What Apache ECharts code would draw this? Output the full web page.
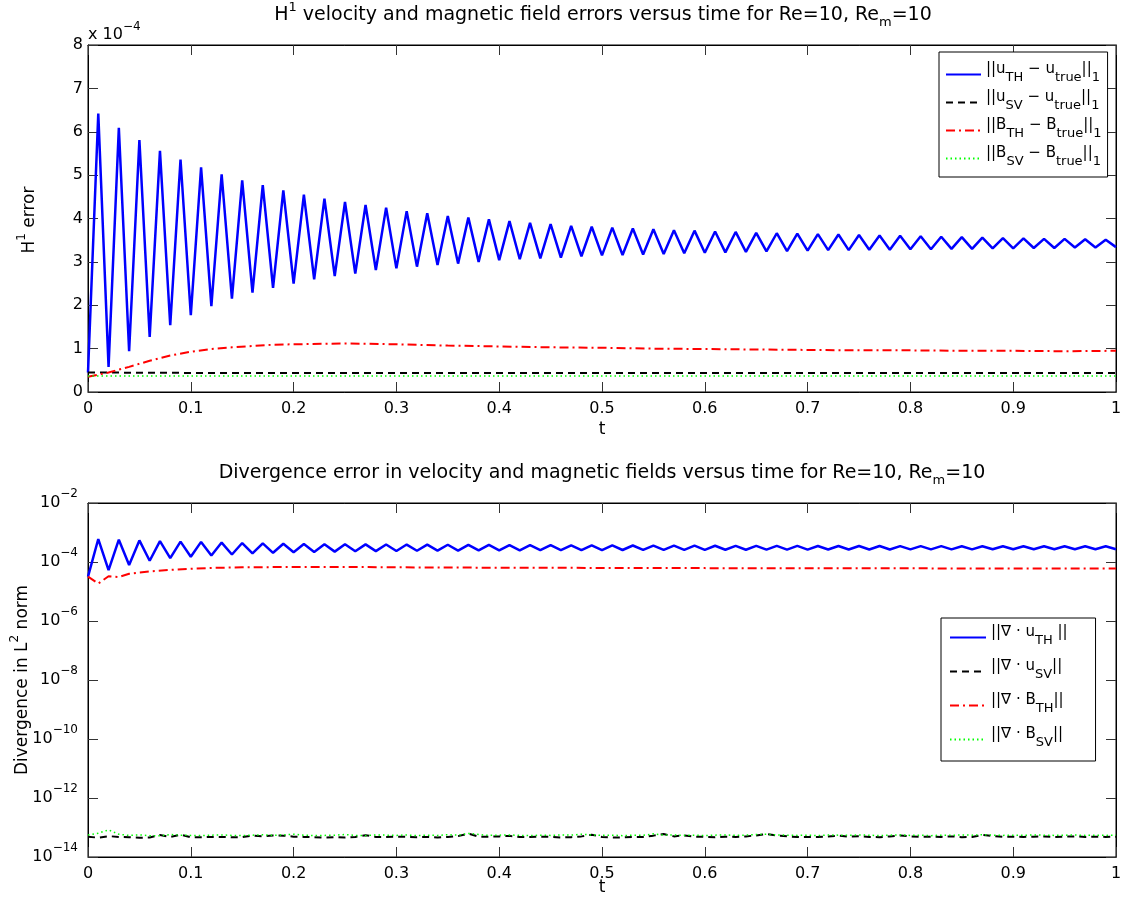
<!DOCTYPE html>
<html lang="en">
<head>
<meta charset="UTF-8">
<title>H1 and divergence errors</title>
<script src="https://cdn.jsdelivr.net/npm/echarts@6.0.0/dist/echarts.min.js"></script>
<style>html,body{margin:0;padding:0;background:#fff}</style>
</head>
<body>
<div id="main" style="width:1136px;height:902px"></div>
<script>
// time samples t = 0, 0.01, ..., 1
var t = Array.from({length: 101}, function (_, i) { return i / 100; });

// top plot, values in units of 1e-4
var uTH = [0.45,6.42,0.58,6.09,0.94,5.81,1.27,5.56,1.54,5.36,1.77,5.18,1.98,5.02,2.15,4.88,2.29,4.77,2.40,4.65,
    2.50,4.55,2.60,4.46,2.67,4.38,2.73,4.31,2.81,4.25,2.85,4.17,2.89,4.12,2.93,4.06,2.96,4.02,3.00,3.98,
    3.04,3.94,3.06,3.90,3.08,3.87,3.10,3.83,3.13,3.81,3.15,3.79,3.16,3.77,3.17,3.75,3.18,3.73,3.20,3.72,
    3.21,3.70,3.22,3.69,3.23,3.67,3.24,3.66,3.25,3.65,3.26,3.64,3.27,3.63,3.27,3.62,3.28,3.61,3.28,3.60,
    3.29,3.59,3.29,3.58,3.30,3.57,3.30,3.56,3.31,3.55,3.31,3.54,3.32,3.53,3.32,3.53,3.33,3.52,3.33,3.51,3.34];
var tFlat = [0, 0.1, 0.2, 0.3, 0.4, 0.5, 0.6, 0.7, 0.8, 0.9, 1];
var uSV = [0.45, 0.44, 0.44, 0.44, 0.44, 0.44, 0.44, 0.44, 0.44, 0.44, 0.44];
var BSV = [0.37, 0.37, 0.37, 0.37, 0.37, 0.37, 0.37, 0.37, 0.37, 0.37, 0.37];
var tB = [0, 0.02, 0.04, 0.06, 0.08, 0.10, 0.12, 0.14, 0.16, 0.18, 0.20, 0.25, 0.30, 0.35, 0.40, 0.45, 0.50,
    0.55, 0.60, 0.65, 0.70, 0.75, 0.80, 0.85, 0.90, 0.95, 1.0];
var BTH = [0.35, 0.45, 0.58, 0.72, 0.84, 0.93, 0.99, 1.03, 1.06, 1.09, 1.10, 1.12, 1.10, 1.07, 1.05, 1.03, 1.02,
    1.00, 0.99, 0.98, 0.97, 0.96, 0.96, 0.95, 0.95, 0.94, 0.95];

// bottom plot (log axis)
var divUTH = [3.2e-5,6.0e-4,5.3e-5,5.7e-4,7.9e-5,5.4e-4,1.1e-4,5.1e-4,1.35e-4,4.9e-4,1.5e-4,4.8e-4,1.66e-4,4.55e-4,1.8e-4,
    4.4e-4,1.95e-4,4.3e-4,2.05e-4,4.15e-4,2.15e-4,4.05e-4,2.2e-4,4.0e-4,2.25e-4,3.98e-4,2.3e-4,3.95e-4,2.33e-4,3.92e-4,
    2.36e-4,3.9e-4,2.4e-4,3.87e-4,2.42e-4,3.84e-4,2.44e-4,3.81e-4,2.46e-4,3.78e-4,2.48e-4,3.75e-4,2.5e-4,3.73e-4,2.51e-4,
    3.71e-4,2.52e-4,3.69e-4,2.53e-4,3.67e-4,2.54e-4,3.65e-4,2.55e-4,3.63e-4,2.56e-4,3.61e-4,2.57e-4,3.59e-4,2.58e-4,3.57e-4,
    2.59e-4,3.55e-4,2.6e-4,3.54e-4,2.61e-4,3.53e-4,2.62e-4,3.52e-4,2.63e-4,3.51e-4,2.64e-4,3.5e-4,2.65e-4,3.49e-4,2.65e-4,
    3.48e-4,2.66e-4,3.47e-4,2.66e-4,3.46e-4,2.67e-4,3.45e-4,2.67e-4,3.44e-4,2.68e-4,3.43e-4,2.68e-4,3.42e-4,2.69e-4,3.42e-4,
    2.69e-4,3.41e-4,2.7e-4,3.41e-4,2.7e-4,3.4e-4,2.7e-4,3.4e-4,2.71e-4,3.4e-4,2.71e-4];
var tDivB = [0, 0.01, 0.02, 0.03, 0.04, 0.05, 0.06, 0.08, 0.10, 0.12, 0.15, 0.2, 0.25, 0.3, 0.4, 0.5, 0.6, 0.7, 0.8, 0.9, 1.0];
var divBTH = [3.2e-5, 1.85e-5, 3.3e-5, 3.1e-5, 4.0e-5, 4.4e-5, 4.8e-5, 5.4e-5, 5.9e-5, 6.3e-5, 6.6e-5, 6.8e-5, 6.8e-5,
    6.6e-5, 6.4e-5, 6.3e-5, 6.2e-5, 6.1e-5, 6.1e-5, 6.0e-5, 6.0e-5];
// in units of 1e-14
var divUSV = [4.9,4.5,5.1,4.8,4.7,4.5,4.6,5.6,4.8,5.7,4.7,4.7,4.8,4.8,4.7,4.7,5.3,5.0,5.4,5.3,4.9,4.8,4.7,4.5,4.7,4.6,4.8,5.5,4.8,4.8,
    4.9,4.8,4.7,4.8,4.6,4.8,5.1,6.2,4.9,4.9,5.0,5.2,4.8,4.8,4.9,4.8,4.6,4.7,5.0,5.7,4.8,4.6,4.6,4.8,4.8,5.3,6.0,5.0,5.4,4.9,
    4.8,4.7,4.9,4.8,5.0,5.4,6.0,5.3,5.0,4.8,4.8,4.8,5.0,5.3,4.9,5.1,4.8,4.7,5.0,5.4,5.0,4.8,4.9,4.8,5.0,4.7,4.8,5.6,5.1,4.8,
    4.9,4.8,4.9,5.0,4.8,4.9,5.0,4.8,4.9,4.8,4.9];
var divBSV = [5.6,6.4,8.3,5.9,5.4,5.6,5.3,5.2,5.8,5.5,5.4,5.3,5.5,5.6,5.4,5.3,5.5,5.7,5.4,5.6,5.9,5.5,5.3,5.4,5.5,5.8,5.4,5.3,5.6,5.5,
    5.4,5.6,5.3,5.5,5.4,5.7,5.5,6.3,5.8,5.4,5.5,5.6,5.4,5.3,5.5,5.4,5.6,5.5,5.9,5.6,5.4,5.5,5.3,5.5,5.4,6.1,5.5,5.6,5.4,5.5,
    5.3,5.5,5.6,5.4,5.5,5.8,5.9,5.6,5.5,5.4,5.5,5.3,5.6,5.5,5.4,5.6,5.5,5.3,5.5,5.6,5.4,5.5,5.3,5.5,5.4,5.6,5.5,5.7,5.5,5.4,
    5.5,5.4,5.6,5.5,5.4,5.5,5.6,5.4,5.5,5.4,5.5];

var FONT = '"DejaVu Sans", "Liberation Sans", Arial, sans-serif';

function zip(xs, ys, k) {
    return xs.map(function (x, i) { return [x, ys[i] * (k || 1)]; });
}

// b = base text, s = subscript
var legendText = {
    uTH: '{b|||u}{s|TH}{b| − u}{s|true}{b|||}{s|1}',
    uSV: '{b|||u}{s|SV}{b| − u}{s|true}{b|||}{s|1}',
    BTH: '{b|||B}{s|TH}{b| − B}{s|true}{b|||}{s|1}',
    BSV: '{b|||B}{s|SV}{b| − B}{s|true}{b|||}{s|1}',
    dUTH: '{b|||∇ · u}{s|TH}{b| ||}',
    dUSV: '{b|||∇ · u}{s|SV}{b|||}',
    dBTH: '{b|||∇ · B}{s|TH}{b|||}',
    dBSV: '{b|||∇ · B}{s|SV}{b|||}'
};

var tickStyle = {show: true, inside: true, length: 10, lineStyle: {color: '#333'}};
var lineAx = {show: true, onZero: false, lineStyle: {color: '#000', width: 1}};

function xAx(grid, pos, labels) {
    return {
        type: 'value', gridIndex: grid, position: pos, min: 0, max: 1, interval: 0.1,
        axisLine: lineAx, axisTick: tickStyle, splitLine: {show: false},
        axisLabel: {show: labels, color: '#000', fontSize: 16, fontFamily: FONT, margin: 9}
    };
}

var supStyle = {fontSize: 12, fontFamily: FONT, lineHeight: 12, verticalAlign: 'top', color: '#000'};

var legendBase = {
    orient: 'vertical', backgroundColor: '#fff', borderColor: '#000', borderWidth: 1,
    borderRadius: 0, itemWidth: 35, itemHeight: 14, itemGap: 3,
    itemStyle: {opacity: 0, borderWidth: 0},
    formatter: function (name) { return legendText[name]; },
    textStyle: {fontSize: 15, fontFamily: FONT, color: '#000',
        rich: {
            b: {fontSize: 15, fontFamily: FONT, color: '#000', lineHeight: 17, padding: [0, 0, 10, 0], verticalAlign: 'middle'},
            s: {fontSize: 13, fontFamily: FONT, color: '#000', lineHeight: 15, padding: [7, 0, 0, 0], verticalAlign: 'middle'}
        }}
};

var option = {
    animation: false,
    backgroundColor: '#fff',
    textStyle: {fontFamily: FONT},
    grid: [
        {left: 88, top: 45, width: 1028, height: 347, show: true, borderColor: '#000', borderWidth: 1},
        {left: 88, top: 503, width: 1028, height: 354, show: true, borderColor: '#000', borderWidth: 1}
    ],
    xAxis: [xAx(0, 'bottom', true), xAx(0, 'top', false), xAx(1, 'bottom', true), xAx(1, 'top', false)],
    yAxis: [
        {type: 'value', gridIndex: 0, position: 'left', min: 0, max: 8, interval: 1,
            axisLine: lineAx, axisTick: tickStyle, splitLine: {show: false},
            axisLabel: {color: '#000', fontSize: 16, fontFamily: FONT, margin: 5}},
        {type: 'value', gridIndex: 0, position: 'right', min: 0, max: 8, interval: 1,
            axisLine: lineAx, axisTick: tickStyle, splitLine: {show: false}, axisLabel: {show: false}},
        {type: 'log', logBase: 100, gridIndex: 1, position: 'left', min: 1e-14, max: 1e-2, splitNumber: 6,
            axisLine: lineAx, axisTick: tickStyle, splitLine: {show: false}, minorTick: {show: false},
            axisLabel: {color: '#000', fontSize: 16, fontFamily: FONT, margin: 10, lineHeight: 30,
                rich: {sup: supStyle},
                formatter: function (v) {
                    var e = Math.round(Math.log(v) / Math.LN10);
                    return '10{sup|' + (e < 0 ? '−' : '') + Math.abs(e) + '}';
                }}},
        {type: 'log', logBase: 100, gridIndex: 1, position: 'right', min: 1e-14, max: 1e-2, splitNumber: 6,
            axisLine: lineAx, axisTick: tickStyle, splitLine: {show: false}, axisLabel: {show: false}}
    ],
    legend: [
        Object.assign({}, legendBase, {data: ['uTH', 'uSV', 'BTH', 'BSV'], left: 939, top: 52, padding: [10, 6, 6, 6]}),
        Object.assign({}, legendBase, {data: ['dUTH', 'dUSV', 'dBTH', 'dBSV'], left: 941, top: 618,
            itemWidth: 36, itemGap: 9, padding: [7, 28, 9, 8]})
    ],
    series: [
        {name: 'uTH', type: 'line', xAxisIndex: 0, yAxisIndex: 0, symbol: 'none', data: zip(t, uTH),
            lineStyle: {color: '#0000ff', width: 2.5}, itemStyle: {color: '#0000ff'}},
        {name: 'uSV', type: 'line', xAxisIndex: 0, yAxisIndex: 0, symbol: 'none', data: zip(tFlat, uSV),
            lineStyle: {color: '#000', width: 2, type: [7, 5]}, itemStyle: {color: '#000'}},
        {name: 'BTH', type: 'line', xAxisIndex: 0, yAxisIndex: 0, symbol: 'none', data: zip(tB, BTH),
            lineStyle: {color: '#ff0000', width: 2, type: [9, 4, 2, 4]}, itemStyle: {color: '#ff0000'}},
        {name: 'BSV', type: 'line', xAxisIndex: 0, yAxisIndex: 0, symbol: 'none', data: zip(tFlat, BSV),
            lineStyle: {color: '#00ff00', width: 1.5, type: [1.5, 3]}, itemStyle: {color: '#00ff00'}},

        {name: 'dUTH', type: 'line', xAxisIndex: 2, yAxisIndex: 2, symbol: 'none', data: zip(t, divUTH),
            lineStyle: {color: '#0000ff', width: 2.5}, itemStyle: {color: '#0000ff'}},
        {name: 'dUSV', type: 'line', xAxisIndex: 2, yAxisIndex: 2, symbol: 'none', data: zip(t, divUSV, 1e-14),
            lineStyle: {color: '#000', width: 2, type: [7, 5]}, itemStyle: {color: '#000'}},
        {name: 'dBTH', type: 'line', xAxisIndex: 2, yAxisIndex: 2, symbol: 'none', data: zip(tDivB, divBTH),
            lineStyle: {color: '#ff0000', width: 2, type: [9, 4, 2, 4]}, itemStyle: {color: '#ff0000'}},
        {name: 'dBSV', type: 'line', xAxisIndex: 2, yAxisIndex: 2, symbol: 'none', data: zip(t, divBSV, 1e-14),
            lineStyle: {color: '#00ff00', width: 1.5, type: [1.5, 3]}, itemStyle: {color: '#00ff00'}}
    ],
    graphic: [
        {type: 'text', x: 603, y: 15, style: {
            text: 'H{sup|1} velocity and magnetic field errors versus time for Re=10, Re{sub|m}=10',
            fontSize: 19, fontFamily: FONT, fill: '#000', align: 'center', verticalAlign: 'middle', lineHeight: 28,
            rich: {sup: {fontSize: 13, fontFamily: FONT, lineHeight: 13, verticalAlign: 'top'},
                   sub: {fontSize: 13, fontFamily: FONT, lineHeight: 6, verticalAlign: 'bottom'}}}},
        {type: 'text', x: 602, y: 473, style: {
            text: 'Divergence error in velocity and magnetic fields versus time for Re=10, Re{sub|m}=10',
            fontSize: 19, fontFamily: FONT, fill: '#000', align: 'center', verticalAlign: 'middle', lineHeight: 28,
            rich: {sub: {fontSize: 13, fontFamily: FONT, lineHeight: 6, verticalAlign: 'bottom'}}}},
        {type: 'text', x: 88, y: 35, style: {
            text: 'x 10{sup|−4}', fontSize: 16, fontFamily: FONT, fill: '#000', align: 'left',
            verticalAlign: 'middle', lineHeight: 28,
            rich: {sup: {fontSize: 12, fontFamily: FONT, lineHeight: 12, verticalAlign: 'top'}}}},
        {type: 'text', x: 30, y: 220, rotation: Math.PI / 2, style: {
            text: 'H{sup|1} error', fontSize: 17, fontFamily: FONT, fill: '#000', align: 'center',
            verticalAlign: 'middle', lineHeight: 28,
            rich: {sup: {fontSize: 12, fontFamily: FONT, lineHeight: 12, verticalAlign: 'top'}}}},
        {type: 'text', x: 23, y: 680, rotation: Math.PI / 2, style: {
            text: 'Divergence in L{sup|2} norm', fontSize: 17, fontFamily: FONT, fill: '#000', align: 'center',
            verticalAlign: 'middle', lineHeight: 28,
            rich: {sup: {fontSize: 12, fontFamily: FONT, lineHeight: 12, verticalAlign: 'top'}}}},
        {type: 'text', x: 602, y: 430, style: {text: 't', fontSize: 17, fontFamily: FONT, fill: '#000',
            align: 'center', verticalAlign: 'middle'}},
        {type: 'text', x: 602, y: 888, style: {text: 't', fontSize: 17, fontFamily: FONT, fill: '#000',
            align: 'center', verticalAlign: 'middle'}}
    ]
};

var myChart = echarts.init(document.getElementById('main'));
myChart.setOption(option);
</script>
</body>
</html>
